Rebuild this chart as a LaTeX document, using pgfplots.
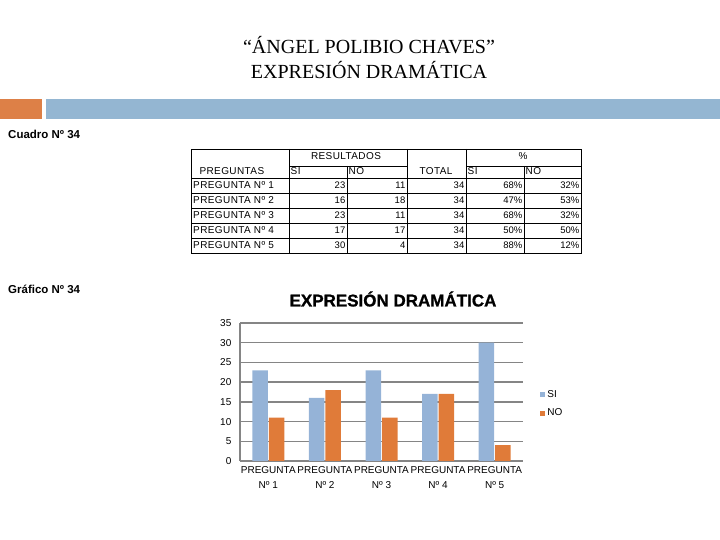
\documentclass[border=0pt]{standalone}
\usepackage{fontspec}
\setmainfont{Liberation Sans}
\newfontfamily\seriffont{Liberation Serif}
\usepackage{pgfplots}
\pgfplotsset{compat=1.18}
\definecolor{barblue}{HTML}{95B3D7}
\definecolor{barorange}{HTML}{E07B39}
\definecolor{hdrblue}{HTML}{94B6D2}
\definecolor{hdrorange}{HTML}{DD8047}
\definecolor{gridgray}{HTML}{858585}
\newcommand{\tf}{\fontsize{10}{12}\selectfont\addfontfeature{LetterSpace=4}}
\newcommand{\nf}{\fontsize{9.5}{11}\selectfont}
\begin{document}
\begin{tikzpicture}[x=1pt,y=1pt]
\path[use as bounding box] (0,0) rectangle (720,540);
% title
\node[font=\seriffont\fontsize{20}{22}\selectfont] at (369,495) {“ÁNGEL POLIBIO CHAVES”};
\node[font=\seriffont\fontsize{20}{22}\selectfont] at (369,470) {EXPRESIÓN DRAMÁTICA};
% header bars
\fill[hdrorange] (0,441) rectangle (42,421);
\fill[hdrblue] (46,441) rectangle (720,421);
\node[anchor=west,font=\bfseries\fontsize{11.5}{13}\selectfont,inner sep=0] at (8,406) {Cuadro Nº 34};
% table
\begin{scope}[line width=0.9pt]
\draw (191,391) rectangle (581,287);
\draw (289,391) -- (289,287);
\draw (407,391) -- (407,287);
\draw (466,391) -- (466,287);
\draw (289,374) -- (407,374);
\draw (466,374) -- (581,374);
\draw (347,374) -- (347,287);
\draw (524,374) -- (524,287);
\foreach \y in {362,347,332,317,302} \draw (191,\y) -- (581,\y);
\end{scope}
\node[font=\tf] at (346,384) {RESULTADOS};
\node[font=\tf] at (523,384) {\%};
\node[font=\tf,anchor=west] at (196,369) {PREGUNTAS};
\node[font=\tf,anchor=west,inner sep=1.5pt] at (289,369) {SI};
\node[font=\tf,anchor=west,inner sep=1.5pt] at (347,369) {NO};
\node[font=\tf] at (436,369) {TOTAL};
\node[font=\tf,anchor=west,inner sep=1.5pt] at (466,369) {SI};
\node[font=\tf,anchor=west,inner sep=1.5pt] at (524,369) {NO};
\foreach \i/\s/\n/\ps/\pn [count=\k from 0] in {1/23/11/68/32,2/16/18/47/53,3/23/11/68/32,4/17/17/50/50,5/30/4/88/12}{
  \pgfmathsetmacro{\yy}{354.5-15*\k}
  \node[font=\tf,anchor=west,inner sep=1pt] at (192,\yy) {PREGUNTA Nº \i};
  \node[font=\nf,anchor=east,inner sep=1.5pt] at (347,\yy) {\s};
  \node[font=\nf,anchor=east,inner sep=1.5pt] at (407,\yy) {\n};
  \node[font=\nf,anchor=east,inner sep=1.5pt] at (466,\yy) {34};
  \node[font=\nf,anchor=east,inner sep=1.5pt] at (524,\yy) {\ps\%};
  \node[font=\nf,anchor=east,inner sep=1.5pt] at (581,\yy) {\pn\%};
}
\node[anchor=west,font=\bfseries\fontsize{11.5}{13}\selectfont,inner sep=0] at (8,251) {Gráfico Nº 34};
\node[font=\bfseries\fontsize{17}{19}\selectfont\addfontfeature{FakeBold=1}] at (393,241) {EXPRESIÓN DRAMÁTICA};
\begin{axis}[
  at={(240pt,79pt)}, anchor=south west,
  scale only axis, width=283pt, height=138pt,
  ybar=1pt, bar width=15.5pt,
  ymin=0, ymax=35, ytick={0,5,...,35},
  xmin=0.5, xmax=5.5, xtick={1,...,5},
  xticklabels={PREGUNTA\\Nº 1,PREGUNTA\\Nº 2,PREGUNTA\\Nº 3,PREGUNTA\\Nº 4,PREGUNTA\\Nº 5},
  xticklabel style={align=center,font=\fontsize{10}{15}\selectfont},
  yticklabel style={font=\fontsize{10}{12}\selectfont,xshift=-3pt},
  /pgf/number format/assume math mode=true,
  axis x line=bottom, axis y line=left,
  axis line style={gridgray,line width=1.4pt,-},
  tick style={draw=none},
  ymajorgrids, grid style={gridgray,line width=1.4pt},
  legend style={at={(1.05,0.413)},anchor=west,draw=none,fill=none,
    font=\fontsize{10}{12}\selectfont,row sep=6pt},
  legend cell align=left,
  legend image code/.code={\fill[#1] (0pt,-2.5pt) rectangle (5pt,2.5pt);},
]
\addplot[fill=barblue,draw=none] coordinates {(1,23) (2,16) (3,23) (4,17) (5,30)};
\addplot[fill=barorange,draw=none] coordinates {(1,11) (2,18) (3,11) (4,17) (5,4)};
\legend{SI,NO}
\end{axis}
\end{tikzpicture}
\end{document}
